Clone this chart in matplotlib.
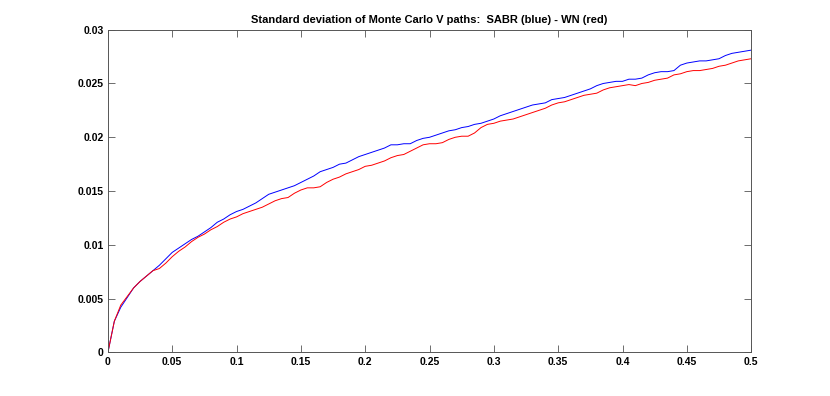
import matplotlib
matplotlib.use('Agg')
import matplotlib.pyplot as plt
import numpy as np

# time grid (step 0.005) and standard deviation
t = np.linspace(0, 0.5, 101)

std_sabr = [0, 0.0029, 0.0042, 0.0051, 0.0060, 0.0066, 0.0071, 0.0076, 0.0081, 0.0087,
            0.0093, 0.0097, 0.0101, 0.0105, 0.0108, 0.0112, 0.0116, 0.0121, 0.0124, 0.0128,
            0.0131, 0.0133, 0.0136, 0.0139, 0.0143, 0.0147, 0.0149, 0.0151, 0.0153, 0.0155,
            0.0158, 0.0161, 0.0164, 0.0168, 0.0170, 0.0172, 0.0175, 0.0176, 0.0179, 0.0182,
            0.0184, 0.0186, 0.0188, 0.0190, 0.0193, 0.0193, 0.0194, 0.0194, 0.0197, 0.0199,
            0.0200, 0.0202, 0.0204, 0.0206, 0.0207, 0.0209, 0.0210, 0.0212, 0.0213, 0.0215,
            0.0217, 0.0220, 0.0222, 0.0224, 0.0226, 0.0228, 0.0230, 0.0231, 0.0232, 0.0235,
            0.0236, 0.0237, 0.0239, 0.0241, 0.0243, 0.0245, 0.0248, 0.0250, 0.0251, 0.0252,
            0.0252, 0.0254, 0.0254, 0.0255, 0.0258, 0.0260, 0.0261, 0.0261, 0.0262, 0.0267,
            0.0269, 0.0270, 0.0271, 0.0271, 0.0272, 0.0273, 0.0276, 0.0278, 0.0279, 0.0280,
            0.0281]

std_wn = [0, 0.0029, 0.0044, 0.0052, 0.0060, 0.0066, 0.0071, 0.0076, 0.0078, 0.0083,
          0.0089, 0.0094, 0.0098, 0.0103, 0.0107, 0.0110, 0.0114, 0.0117, 0.0121, 0.0124,
          0.0126, 0.0129, 0.0131, 0.0133, 0.0135, 0.0138, 0.0141, 0.0143, 0.0144, 0.0148,
          0.0151, 0.0153, 0.0153, 0.0154, 0.0158, 0.0161, 0.0163, 0.0166, 0.0168, 0.0170,
          0.0173, 0.0174, 0.0176, 0.0178, 0.0181, 0.0183, 0.0184, 0.0187, 0.0190, 0.0193,
          0.0194, 0.0194, 0.0195, 0.0198, 0.0200, 0.0201, 0.0201, 0.0204, 0.0209, 0.0212,
          0.0213, 0.0215, 0.0216, 0.0217, 0.0219, 0.0221, 0.0223, 0.0225, 0.0227, 0.0230,
          0.0232, 0.0233, 0.0235, 0.0237, 0.0239, 0.0240, 0.0241, 0.0244, 0.0246, 0.0247,
          0.0248, 0.0249, 0.0248, 0.0250, 0.0251, 0.0253, 0.0254, 0.0255, 0.0258, 0.0259,
          0.0261, 0.0262, 0.0262, 0.0263, 0.0264, 0.0266, 0.0267, 0.0269, 0.0271, 0.0272,
          0.0273]

x_ticks = [0, 0.05, 0.1, 0.15, 0.2, 0.25, 0.3, 0.35, 0.4, 0.45, 0.5]
x_labels = ['0', '0.05', '0.1', '0.15', '0.2', '0.25', '0.3', '0.35', '0.4', '0.45', '0.5']
y_ticks = [0, 0.005, 0.01, 0.015, 0.02, 0.025, 0.03]
y_labels = ['0', '0.005', '0.01', '0.015', '0.02', '0.025', '0.03']

plt.rcParams['font.family'] = ['Liberation Sans', 'DejaVu Sans']

fig = plt.figure(figsize=(8.3, 3.96), dpi=100)
ax = fig.add_axes([0.13, 0.11, 0.775, 0.815])

ax.plot(t, std_sabr, color='#0000ff', linewidth=0.7)
ax.plot(t, std_wn, color='#ff0000', linewidth=0.7)

ax.set_xlim(0, 0.5)
ax.set_ylim(0, 0.03)
ax.set_xticks(x_ticks)
ax.set_xticklabels(x_labels)
ax.set_yticks(y_ticks)
ax.set_yticklabels(y_labels)
ax.tick_params(direction='in', length=5, width=0.6, color='#555555',
               top=True, right=True, labelsize=7.5, pad=3)
for lab in ax.get_xticklabels() + ax.get_yticklabels():
    lab.set_fontweight('bold')
for s in ax.spines.values():
    s.set_color('#555555')
    s.set_linewidth(0.7)

ax.set_title('Standard deviation of Monte Carlo V paths:  SABR (blue) - WN (red)',
             fontsize=8, fontweight='bold', pad=5)

fig.savefig('out.png', dpi=100)
